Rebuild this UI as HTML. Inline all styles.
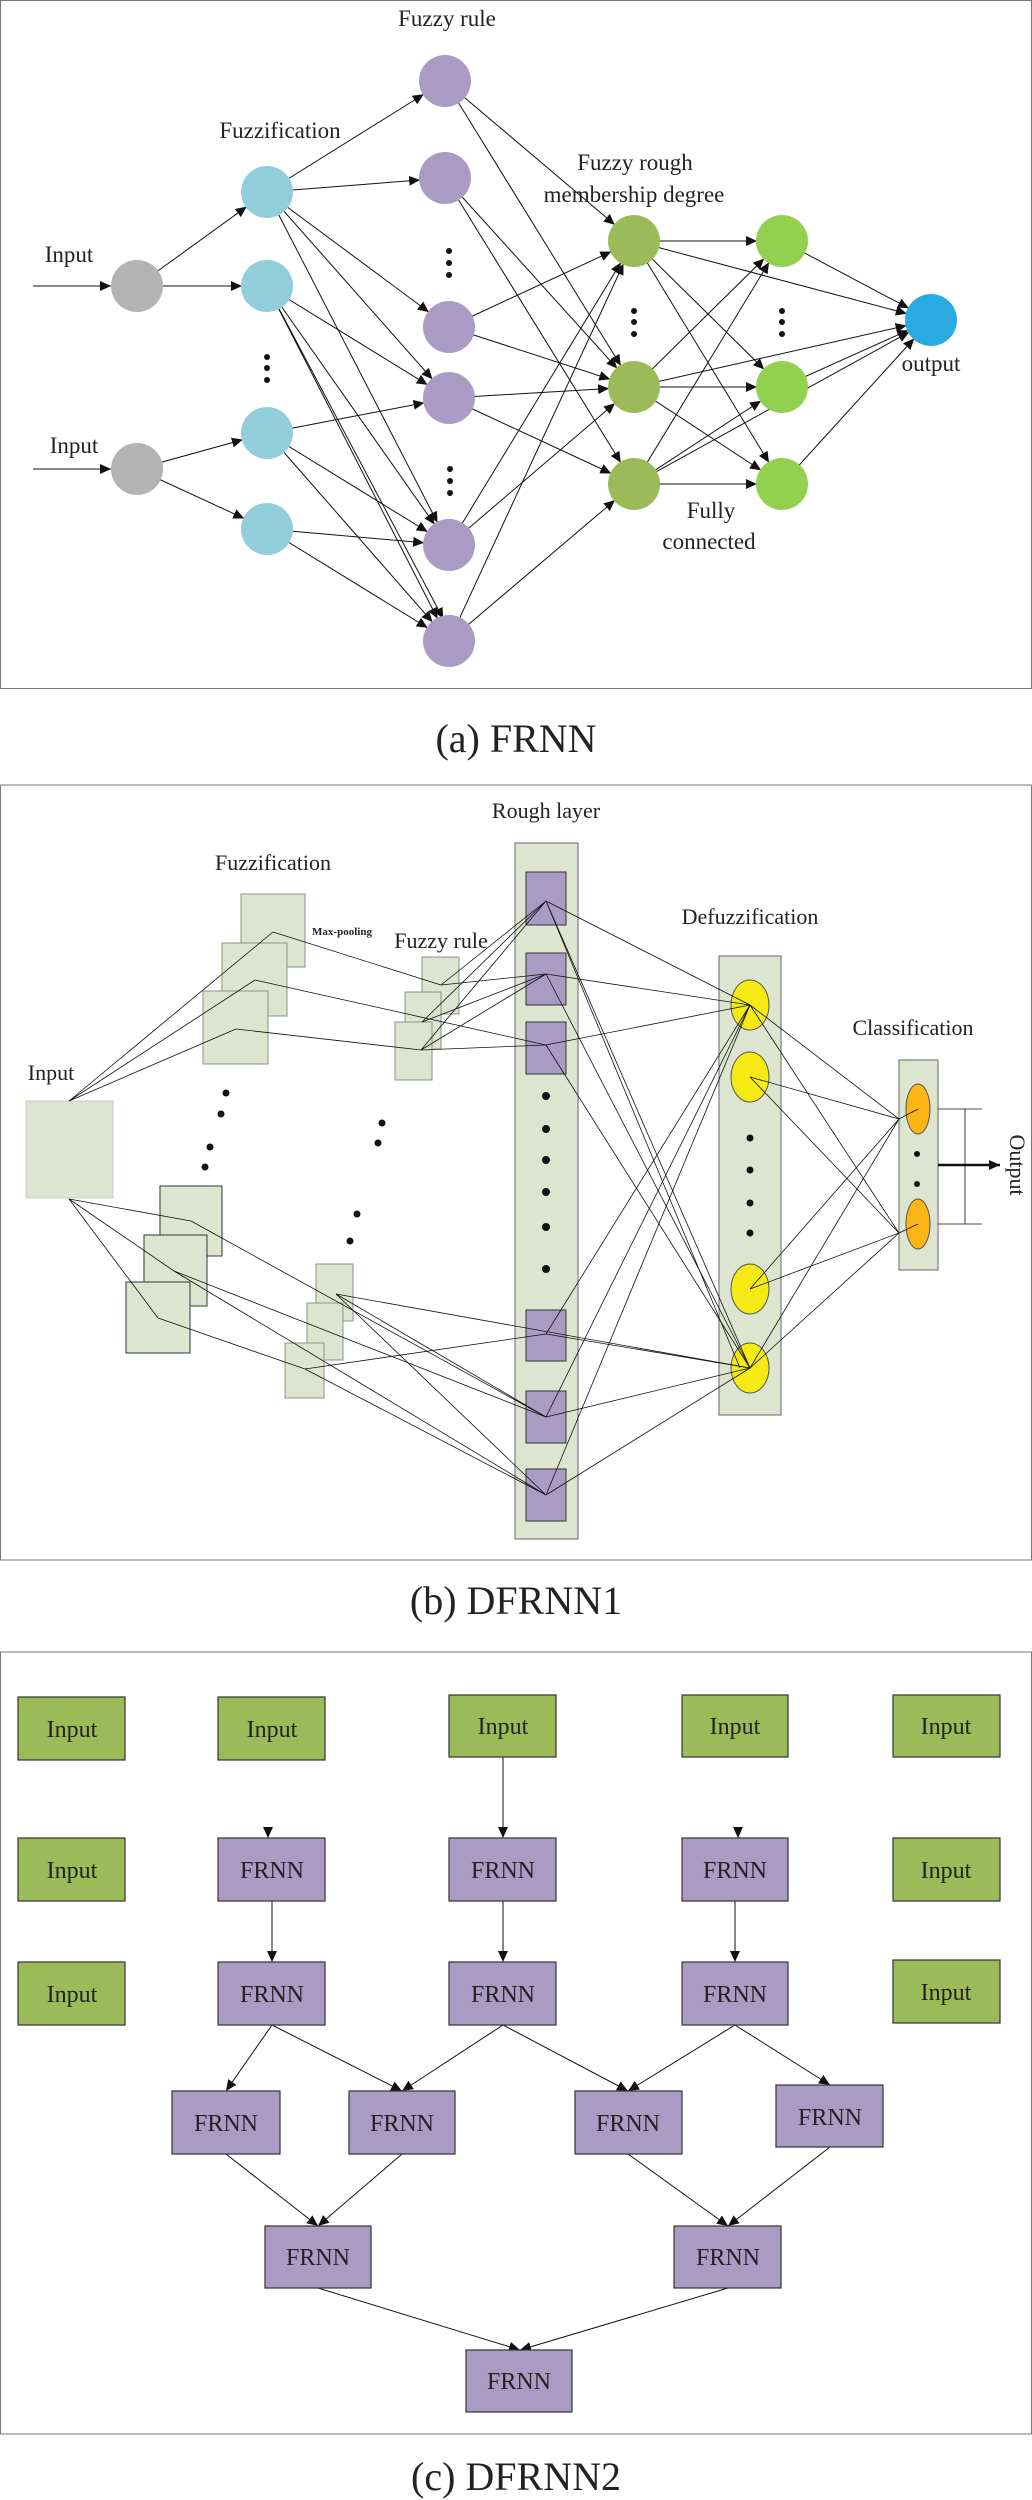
<!DOCTYPE html>
<html><head><meta charset="utf-8"><style>
html,body{margin:0;padding:0;background:#fff;}
svg{display:block;}
text{font-family:"Liberation Serif",serif;fill:#222;}
</style></head><body>
<svg width="1032" height="2500" viewBox="0 0 1032 2500" xmlns="http://www.w3.org/2000/svg">
<defs>
<marker id="ac" markerUnits="userSpaceOnUse" markerWidth="40" markerHeight="12" refX="36" refY="5" orient="auto"><path d="M0,0 L11,5 L0,10 z" fill="#111"/></marker>
<marker id="ae" markerUnits="userSpaceOnUse" markerWidth="12" markerHeight="12" refX="11" refY="5" orient="auto"><path d="M0,0 L11,5 L0,10 z" fill="#111"/></marker>
</defs>

<!-- ===== Panel (a) ===== -->
<rect x="0.5" y="0.5" width="1031" height="688" fill="#fff" stroke="#777" stroke-width="1"/>
<g stroke="#111" stroke-width="1" fill="none">
<line x1="33" y1="286" x2="111" y2="286" marker-end="url(#ae)"/>
<line x1="33" y1="469" x2="111" y2="469" marker-end="url(#ae)"/>
</g>
<g stroke="#111" stroke-width="1" marker-end="url(#ac)">
<line x1="137" y1="286" x2="267" y2="192"/><line x1="137" y1="286" x2="267" y2="286"/>
<line x1="137" y1="469" x2="267" y2="433"/><line x1="137" y1="469" x2="267" y2="529"/>
<line x1="267" y1="192" x2="445" y2="81"/><line x1="267" y1="192" x2="445" y2="178"/>
<line x1="267" y1="192" x2="449" y2="327"/><line x1="267" y1="192" x2="449" y2="398"/>
<line x1="267" y1="192" x2="449" y2="545"/>
<line x1="267" y1="286" x2="449" y2="398"/><line x1="267" y1="286" x2="449" y2="545"/>
<line x1="267" y1="286" x2="449" y2="641"/><line x1="267" y1="286" x2="455" y2="641"/>
<line x1="267" y1="433" x2="449" y2="398"/><line x1="267" y1="433" x2="449" y2="545"/>
<line x1="267" y1="433" x2="449" y2="641"/>
<line x1="267" y1="529" x2="449" y2="545"/><line x1="267" y1="529" x2="449" y2="641"/>
<line x1="445" y1="81" x2="634" y2="241"/><line x1="445" y1="81" x2="634" y2="387"/>
<line x1="445" y1="178" x2="634" y2="387"/><line x1="445" y1="178" x2="634" y2="484"/>
<line x1="449" y1="327" x2="634" y2="241"/><line x1="449" y1="327" x2="634" y2="387"/>
<line x1="449" y1="398" x2="634" y2="387"/><line x1="449" y1="398" x2="634" y2="484"/>
<line x1="449" y1="545" x2="634" y2="241"/><line x1="449" y1="545" x2="634" y2="387"/>
<line x1="449" y1="641" x2="634" y2="241"/><line x1="449" y1="641" x2="634" y2="484"/>
<line x1="634" y1="241" x2="782" y2="241"/><line x1="634" y1="241" x2="782" y2="387"/><line x1="634" y1="241" x2="782" y2="484"/><line x1="634" y1="241" x2="931" y2="320"/>
<line x1="634" y1="387" x2="782" y2="241"/><line x1="634" y1="387" x2="782" y2="387"/><line x1="634" y1="387" x2="782" y2="484"/><line x1="634" y1="387" x2="931" y2="320"/>
<line x1="634" y1="484" x2="782" y2="241"/><line x1="634" y1="484" x2="782" y2="387"/><line x1="634" y1="484" x2="782" y2="484"/><line x1="634" y1="484" x2="931" y2="320"/>
<line x1="782" y1="241" x2="931" y2="320"/><line x1="782" y1="387" x2="931" y2="320"/><line x1="782" y1="484" x2="931" y2="320"/>
</g>
<g>
<ellipse cx="137" cy="286" rx="26" ry="26" fill="#b3b3b3"/>
<ellipse cx="137" cy="469" rx="26" ry="26" fill="#b3b3b3"/>
<g fill="#92cddc"><ellipse cx="267" cy="192" rx="26" ry="26"/><ellipse cx="267" cy="286" rx="26" ry="26"/><ellipse cx="267" cy="433" rx="26" ry="26"/><ellipse cx="267" cy="529" rx="26" ry="26"/></g>
<g fill="#a99bc3"><ellipse cx="445" cy="81" rx="26" ry="26"/><ellipse cx="445" cy="178" rx="26" ry="26"/><ellipse cx="449" cy="327" rx="26" ry="26"/><ellipse cx="449" cy="398" rx="26" ry="26"/><ellipse cx="449" cy="545" rx="26" ry="26"/><ellipse cx="449" cy="641" rx="26" ry="26"/></g>
<g fill="#9bbb59"><ellipse cx="634" cy="241" rx="26" ry="26"/><ellipse cx="634" cy="387" rx="26" ry="26"/><ellipse cx="634" cy="484" rx="26" ry="26"/></g>
<g fill="#92d050"><ellipse cx="782" cy="241" rx="26" ry="26"/><ellipse cx="782" cy="387" rx="26" ry="26"/><ellipse cx="782" cy="484" rx="26" ry="26"/></g>
<ellipse cx="931" cy="320" rx="26" ry="26" fill="#29abe2"/>
</g>
<g fill="#111">
<circle cx="267" cy="357" r="3"/><circle cx="267" cy="368" r="3"/><circle cx="267" cy="380" r="3"/>
<circle cx="449" cy="251" r="3"/><circle cx="449" cy="263" r="3"/><circle cx="449" cy="275" r="3"/>
<circle cx="450" cy="469" r="3"/><circle cx="450" cy="481" r="3"/><circle cx="450" cy="493" r="3"/>
<circle cx="634" cy="311" r="3"/><circle cx="634" cy="322" r="3"/><circle cx="634" cy="334" r="3"/>
<circle cx="782" cy="311" r="3"/><circle cx="782" cy="322" r="3"/><circle cx="782" cy="334" r="3"/>
</g>
<g font-size="23" text-anchor="middle">
<text x="447" y="26">Fuzzy rule</text>
<text x="280" y="138">Fuzzification</text>
<text x="635" y="170">Fuzzy rough</text>
<text x="634" y="202">membership degree</text>
<text x="69" y="262">Input</text>
<text x="74" y="453">Input</text>
<text x="931" y="371">output</text>
<text x="711" y="518">Fully</text>
<text x="709" y="549">connected</text>
</g>
<text x="516" y="752" font-size="40" text-anchor="middle">(a)  FRNN</text>

<!-- ===== Panel (b) ===== -->
<rect x="0.5" y="785" width="1031" height="775" fill="#fff" stroke="#777" stroke-width="1"/>
<g fill="#dde5d1" stroke="#8a9480" stroke-width="1">
<rect x="26" y="1101" width="87" height="97" stroke="#c8d0bc"/>
<rect x="241" y="894" width="64" height="73"/>
<rect x="222" y="943" width="65" height="73"/>
<rect x="203" y="991" width="65" height="73"/>
<rect x="160" y="1186" width="62" height="70" stroke="#333"/>
<rect x="144" y="1235" width="63" height="71" stroke="#333"/>
<rect x="126" y="1282" width="64" height="71" stroke="#333"/>
<rect x="422" y="957" width="37" height="57"/>
<rect x="405" y="992" width="36" height="57"/>
<rect x="395" y="1022" width="37" height="58"/>
<rect x="316" y="1264" width="37" height="57"/>
<rect x="307" y="1303" width="36" height="57"/>
<rect x="285" y="1343" width="39" height="55"/>
<rect x="515" y="843" width="63" height="696" stroke="#666"/>
<rect x="719" y="956" width="62" height="459" stroke="#666"/>
<rect x="899" y="1060" width="39" height="210" stroke="#666"/>
</g>
<g fill="#a99bc3" stroke="#333" stroke-width="1">
<rect x="526" y="872" width="40" height="53"/><rect x="526" y="953" width="40" height="52"/><rect x="526" y="1022" width="40" height="52"/>
<rect x="526" y="1310" width="40" height="51"/><rect x="526" y="1391" width="40" height="52"/><rect x="526" y="1469" width="40" height="52"/>
</g>
<g fill="#f5ea14" stroke="#555" stroke-width="1">
<ellipse cx="750" cy="1005" rx="19" ry="25"/><ellipse cx="750" cy="1077" rx="19" ry="25"/>
<ellipse cx="750" cy="1289" rx="19" ry="25"/><ellipse cx="750" cy="1368" rx="19" ry="25"/>
</g>
<g fill="#fbb514" stroke="#555" stroke-width="1">
<ellipse cx="918" cy="1109" rx="12" ry="25"/><ellipse cx="918" cy="1224" rx="12" ry="25"/>
</g>
<g fill="#111">
<circle cx="226" cy="1093" r="3.5"/><circle cx="221" cy="1114" r="3.5"/><circle cx="210" cy="1147" r="3.5"/><circle cx="205" cy="1167" r="3.5"/>
<circle cx="382" cy="1123" r="3.5"/><circle cx="378" cy="1143" r="3.5"/><circle cx="357" cy="1214" r="3.5"/><circle cx="350" cy="1241" r="3.5"/>
<circle cx="546" cy="1096" r="4"/><circle cx="546" cy="1129" r="4"/><circle cx="546" cy="1160" r="4"/><circle cx="546" cy="1192" r="4"/><circle cx="546" cy="1227" r="4"/><circle cx="546" cy="1269" r="4"/>
<circle cx="750" cy="1138" r="3.5"/><circle cx="750" cy="1170" r="3.5"/><circle cx="750" cy="1203" r="3.5"/><circle cx="750" cy="1233" r="3.5"/>
<circle cx="917" cy="1154" r="3"/><circle cx="917" cy="1184" r="3"/>
</g>
<g stroke="#111" stroke-width="0.8" fill="none">
<line x1="69" y1="1101" x2="273" y2="932"/><line x1="69" y1="1101" x2="255" y2="980"/><line x1="69" y1="1101" x2="236" y2="1029"/>
<line x1="273" y1="932" x2="441" y2="985"/><line x1="255" y1="980" x2="546" y2="1045"/><line x1="236" y1="1029" x2="421" y2="1050"/>
<line x1="441" y1="985" x2="546" y2="901"/><line x1="441" y1="985" x2="546" y2="974"/>
<line x1="422" y1="1022" x2="546" y2="901"/><line x1="422" y1="1022" x2="546" y2="974"/>
<line x1="421" y1="1050" x2="546" y2="901"/><line x1="421" y1="1050" x2="546" y2="974"/><line x1="421" y1="1050" x2="546" y2="1045"/>
<line x1="69" y1="1199" x2="191" y2="1221"/><line x1="69" y1="1199" x2="174" y2="1271"/><line x1="69" y1="1199" x2="158" y2="1318"/>
<line x1="191" y1="1221" x2="546" y2="1417"/><line x1="174" y1="1271" x2="546" y2="1417"/><line x1="174" y1="1271" x2="546" y2="1495"/>
<line x1="158" y1="1318" x2="305" y2="1369"/>
<line x1="336" y1="1294" x2="546" y2="1495"/><line x1="336" y1="1294" x2="750" y2="1368"/><line x1="336" y1="1294" x2="546" y2="1417"/>
<line x1="305" y1="1369" x2="546" y2="1334"/><line x1="305" y1="1369" x2="546" y2="1495"/>
<line x1="546" y1="901" x2="750" y2="1005"/><line x1="546" y1="901" x2="750" y2="1368"/><line x1="546" y1="901" x2="740" y2="1368"/>
<line x1="546" y1="974" x2="750" y2="1005"/><line x1="546" y1="974" x2="750" y2="1368"/>
<line x1="546" y1="1045" x2="750" y2="1005"/><line x1="546" y1="1045" x2="750" y2="1368"/>
<line x1="546" y1="1334" x2="750" y2="1005"/><line x1="546" y1="1334" x2="750" y2="1368"/>
<line x1="546" y1="1417" x2="750" y2="1005"/><line x1="546" y1="1417" x2="750" y2="1368"/>
<line x1="546" y1="1495" x2="750" y2="1005"/><line x1="546" y1="1495" x2="750" y2="1368"/>
<line x1="750" y1="1005" x2="899" y2="1119"/><line x1="750" y1="1005" x2="899" y2="1233"/>
<line x1="750" y1="1077" x2="899" y2="1119"/><line x1="750" y1="1077" x2="899" y2="1233"/>
<line x1="750" y1="1289" x2="899" y2="1119"/><line x1="750" y1="1289" x2="899" y2="1233"/>
<line x1="750" y1="1368" x2="899" y2="1119"/><line x1="750" y1="1368" x2="899" y2="1233"/>
<line x1="899" y1="1119" x2="918" y2="1109"/><line x1="899" y1="1233" x2="918" y2="1224"/>
<line x1="938" y1="1109" x2="982" y2="1109"/><line x1="938" y1="1224" x2="982" y2="1224"/><line x1="965" y1="1109" x2="965" y2="1224"/>
</g>
<line x1="938" y1="1165" x2="1000" y2="1165" stroke="#111" stroke-width="2.5" marker-end="url(#ae)"/>
<g text-anchor="middle">
<text x="546" y="818" font-size="22">Rough layer</text>
<text x="273" y="870" font-size="22">Fuzzification</text>
<text x="342" y="935" font-size="11" font-weight="bold">Max-pooling</text>
<text x="441" y="948" font-size="22">Fuzzy rule</text>
<text x="750" y="924" font-size="22">Defuzzification</text>
<text x="913" y="1035" font-size="22">Classification</text>
<text x="51" y="1080" font-size="22">Input</text>
<text x="1010" y="1165" font-size="22" transform="rotate(90 1010 1165)">Output</text>
</g>
<text x="516" y="1614" font-size="40" text-anchor="middle">(b)  DFRNN1</text>

<!-- ===== Panel (c) ===== -->
<rect x="0.5" y="1652" width="1031" height="782" fill="#fff" stroke="#777" stroke-width="1"/>
<g stroke="#111" stroke-width="1" marker-end="url(#ae)">
<line x1="503" y1="1757" x2="503" y2="1838"/>
<line x1="268" y1="1830" x2="268" y2="1838"/><line x1="738" y1="1830" x2="738" y2="1838"/>
<line x1="272" y1="1901" x2="272" y2="1962"/><line x1="503" y1="1901" x2="503" y2="1962"/><line x1="735" y1="1901" x2="735" y2="1962"/>
<line x1="272" y1="2025" x2="226" y2="2091"/><line x1="272" y1="2025" x2="402" y2="2091"/>
<line x1="503" y1="2025" x2="402" y2="2091"/><line x1="503" y1="2025" x2="628" y2="2091"/>
<line x1="735" y1="2025" x2="628" y2="2091"/><line x1="735" y1="2025" x2="830" y2="2085"/>
<line x1="226" y1="2154" x2="318" y2="2226"/><line x1="402" y1="2154" x2="318" y2="2226"/>
<line x1="628" y1="2154" x2="728" y2="2226"/><line x1="830" y1="2147" x2="728" y2="2226"/>
<line x1="318" y1="2288" x2="520" y2="2350"/><line x1="728" y1="2288" x2="520" y2="2350"/>
</g>
<g fill="#9bbb59" stroke="#333" stroke-width="1.2">
<rect x="18" y="1697" width="107" height="63"/><rect x="218" y="1697" width="107" height="63"/><rect x="449" y="1695" width="107" height="62"/>
<rect x="682" y="1695" width="106" height="62"/><rect x="893" y="1695" width="107" height="62"/>
<rect x="18" y="1838" width="107" height="63"/><rect x="893" y="1838" width="107" height="63"/>
<rect x="18" y="1962" width="107" height="63"/><rect x="893" y="1960" width="107" height="63"/>
</g>
<g fill="#a99bc3" stroke="#333" stroke-width="1.2">
<rect x="218" y="1838" width="107" height="63"/><rect x="449" y="1838" width="107" height="63"/><rect x="682" y="1838" width="106" height="63"/>
<rect x="218" y="1962" width="107" height="63"/><rect x="449" y="1962" width="107" height="63"/><rect x="682" y="1962" width="106" height="63"/>
<rect x="172" y="2091" width="108" height="63"/><rect x="349" y="2091" width="106" height="63"/><rect x="575" y="2091" width="107" height="63"/><rect x="776" y="2085" width="107" height="62"/>
<rect x="265" y="2226" width="106" height="62"/><rect x="674" y="2226" width="107" height="62"/>
<rect x="466" y="2350" width="106" height="62"/>
</g>
<g font-size="24" text-anchor="middle">
<text x="72" y="1737">Input</text><text x="272" y="1737">Input</text><text x="503" y="1734">Input</text><text x="735" y="1734">Input</text><text x="946" y="1734">Input</text>
<text x="72" y="1878">Input</text><text x="946" y="1878">Input</text>
<text x="72" y="2002">Input</text><text x="946" y="2000">Input</text>
<text x="272" y="1878">FRNN</text><text x="503" y="1878">FRNN</text><text x="735" y="1878">FRNN</text>
<text x="272" y="2002">FRNN</text><text x="503" y="2002">FRNN</text><text x="735" y="2002">FRNN</text>
<text x="226" y="2131">FRNN</text><text x="402" y="2131">FRNN</text><text x="628" y="2131">FRNN</text><text x="830" y="2125">FRNN</text>
<text x="318" y="2265">FRNN</text><text x="728" y="2265">FRNN</text>
<text x="519" y="2389">FRNN</text>
</g>
<text x="516" y="2490" font-size="40" text-anchor="middle">(c)  DFRNN2</text>
</svg>
</body></html>
